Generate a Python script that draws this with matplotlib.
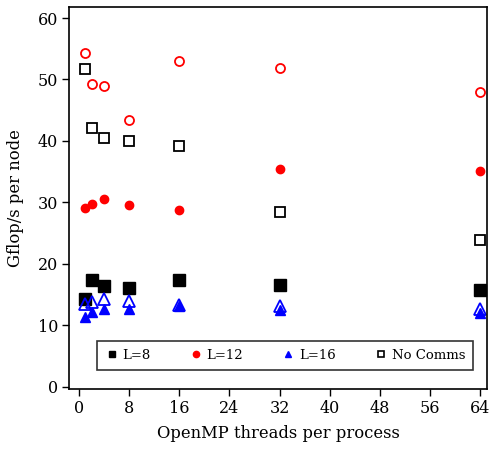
import matplotlib
matplotlib.use("Agg")
import matplotlib.pyplot as plt
from matplotlib.lines import Line2D

threads = [1, 2, 4, 8, 16, 32, 64]
L8 = [14.2, 17.4, 16.3, 16.1, 17.4, 16.6, 15.7]
L8_nocomms = [51.7, 42.1, 40.4, 39.9, 39.1, 28.5, 23.8]
L12 = [29.0, 29.8, 30.5, 29.5, 28.7, 35.5, 35.1]
L12_nocomms = [54.3, 49.2, 48.9, 43.4, 53.0, 51.8, 47.9]
L16 = [11.4, 12.2, 12.7, 12.7, 13.1, 12.4, 11.9]
L16_nocomms = [13.4, 13.7, 14.2, 14.0, 13.2, 13.1, 12.6]
xticks = [0, 8, 16, 24, 32, 40, 48, 56, 64]
yticks = [0, 10, 20, 30, 40, 50, 60]
legend_labels = ['L=8', 'L=12', 'L=16', 'No Comms']

plt.rcParams['font.family'] = ['DejaVu Serif']

fig = plt.figure(figsize=(4.93, 4.49), dpi=100)
ax = fig.add_axes([69/493, 60/449, 418/493, 382/449])

ax.plot(threads, L12_nocomms, 'o', ms=6.5, mfc='none', mec='red', mew=1.3, ls='none')
ax.plot(threads, L8_nocomms, 's', ms=6.5, mfc='none', mec='black', mew=1.3, ls='none')
ax.plot(threads, L12, 'o', ms=6, color='red', ls='none')
ax.plot(threads, L8, 's', ms=8.5, color='black', ls='none')
ax.plot(threads, L16_nocomms, '^', ms=8, mfc='none', mec='blue', mew=1.3, ls='none')
ax.plot(threads, L16, '^', ms=7.5, color='blue', ls='none')

ax.set_xlim(-1.6, 65.1)
ax.set_ylim(-0.4, 61.8)
ax.set_xticks(xticks)
ax.set_yticks(yticks)
ax.tick_params(direction='out', length=5, width=1, labelsize=11.5, pad=3)
for sp in ax.spines.values():
    sp.set_linewidth(1.2)

ax.set_xlabel('OpenMP threads per process', fontsize=11.8, labelpad=6)
ax.set_ylabel('Gflop/s per node', fontsize=11.8, labelpad=10)

hs = [Line2D([], [], marker='s', ms=5, color='black', ls='none'),
      Line2D([], [], marker='o', ms=4.5, color='red', ls='none'),
      Line2D([], [], marker='^', ms=5, color='blue', ls='none'),
      Line2D([], [], marker='s', ms=5, mfc='none', mec='black', mew=1.2, ls='none')]
leg = ax.legend(hs, legend_labels, ncol=4, mode='expand', loc='lower left',
                bbox_to_anchor=(0.067, 0.05, 0.9, 0.089), fontsize=9.5,
                frameon=True, fancybox=False, edgecolor='black',
                handletextpad=0.3, borderaxespad=0, handlelength=1.0,
                borderpad=0.6)
leg.get_frame().set_linewidth(1.2)

fig.savefig('out.png', dpi=100)
